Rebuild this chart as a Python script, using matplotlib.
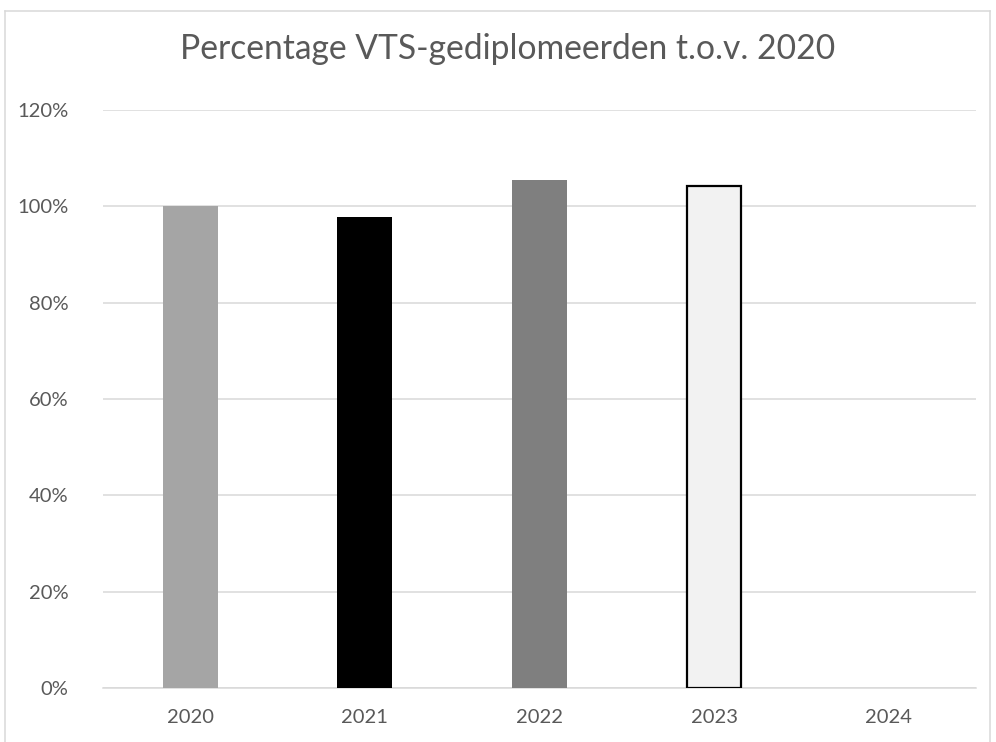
import matplotlib.pyplot as plt
import matplotlib.ticker as ticker
from matplotlib.lines import Line2D

plt.rcParams['font.family'] = ['Lato', 'DejaVu Sans']

# data
years = ['2020', '2021', '2022', '2023', '2024']
percentages = [100, 97.8, 105.5, 104.2, 0]
bar_colors = ['#A5A5A5', '#000000', '#7F7F7F', '#F2F2F2', '#FFFFFF']
edge_colors = ['none', 'none', 'none', '#000000', 'none']

fig = plt.figure(figsize=(9.96, 7.42), dpi=100)
ax = fig.add_axes([0.1034, 0.0728, 0.8765, 0.779])

x = range(len(years))
ax.bar(x, percentages, width=0.314, color=bar_colors, edgecolor=edge_colors,
       linewidth=1.6, zorder=3)

ax.set_ylim(0, 120)
ax.set_xlim(-0.5, len(years) - 0.5)
ax.yaxis.set_major_locator(ticker.MultipleLocator(20))
ax.yaxis.set_major_formatter(ticker.FuncFormatter(lambda v, p: f'{v:.0f}%'))
ax.set_xticks(list(x))
ax.set_xticklabels(years)
ax.grid(axis='y', color='#D9D9D9', linewidth=1.1, zorder=0)

for s in ['top', 'right', 'left']:
    ax.spines[s].set_visible(False)
ax.spines['bottom'].set_color('#D9D9D9')
ax.spines['bottom'].set_linewidth(1.1)
ax.tick_params(axis='both', length=0, labelsize=14.5, colors='#595959')
ax.tick_params(axis='x', pad=15)
ax.tick_params(axis='y', pad=25)

fig.text(0.51, 0.934, 'Percentage VTS-gediplomeerden t.o.v. 2020',
         ha='center', va='center', fontsize=24.2, color='#595959')

# chart frame
frame_kw = dict(color='#D9D9D9', linewidth=1.1, transform=fig.transFigure)
fig.add_artist(Line2D([0.005, 0.994], [0.985, 0.985], **frame_kw))
fig.add_artist(Line2D([0.005, 0.005], [0.0, 0.985], **frame_kw))
fig.add_artist(Line2D([0.994, 0.994], [0.0, 0.985], **frame_kw))

plt.savefig('out.png', dpi=100)
